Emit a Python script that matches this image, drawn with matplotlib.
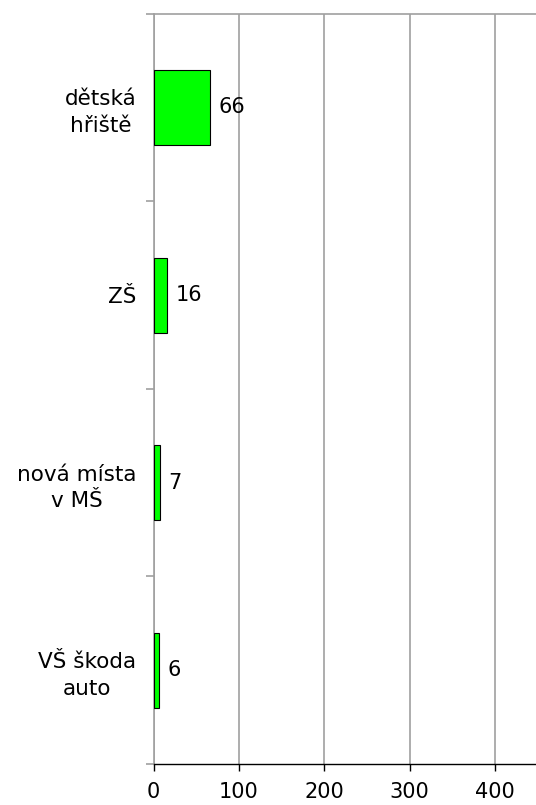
import matplotlib
matplotlib.use("Agg")
import matplotlib.pyplot as plt
import numpy as np

# data
categories = ["dětská\nhřiště", "ZŠ", "nová místa\nv MŠ", "VŠ škoda\nauto"]
values = [66, 16, 7, 6]
x_ticks = [0, 100, 200, 300, 400]

plt.rcParams['font.family'] = ['DejaVu Sans']
grid_col = "#a0a0a0"

fig = plt.figure(figsize=(5.36, 8.05), dpi=100)
ax = fig.add_axes([0.2868, 0.0509, 0.7132, 0.9321])

pos = np.arange(len(categories))
bars = ax.barh(pos, values, height=0.40, color="#00ff00",
               edgecolor="black", linewidth=0.8, zorder=3)

for b, v in zip(bars, values):
    ax.annotate(str(v), (b.get_width(), b.get_y() + b.get_height() / 2),
                xytext=(6, 0), textcoords="offset points",
                ha="left", va="center", fontsize=15, zorder=4)

ax.set_xlim(0, 448)
ax.set_ylim(len(categories) - 0.5, -0.5)

ax.set_xticks(x_ticks)
ax.set_xticklabels([str(t) for t in x_ticks], fontsize=15)
ax.xaxis.grid(True, color=grid_col, linewidth=1.2, zorder=0)
ax.tick_params(axis="x", direction="out", length=5, width=1, color="black", pad=8)

# category separators as major ticks, names on minor ticks
ax.set_yticks(np.arange(len(categories) + 1) - 0.5)
ax.set_yticklabels([])
ax.set_yticks(pos, minor=True)
ax.set_yticklabels(categories, minor=True, fontsize=15.5,
                   multialignment="center", linespacing=1.4)
ax.tick_params(axis="y", which="major", direction="out", length=6, width=1.2, color=grid_col)
ax.tick_params(axis="y", which="minor", length=0, pad=12.5)

ax.spines["left"].set_color(grid_col)
ax.spines["left"].set_linewidth(1.2)
ax.spines["top"].set_color(grid_col)
ax.spines["top"].set_linewidth(1.2)
ax.spines["right"].set_visible(False)
ax.spines["bottom"].set_color("black")
ax.spines["bottom"].set_linewidth(1.0)
ax.set_axisbelow(True)

fig.savefig("out.png", dpi=100)
